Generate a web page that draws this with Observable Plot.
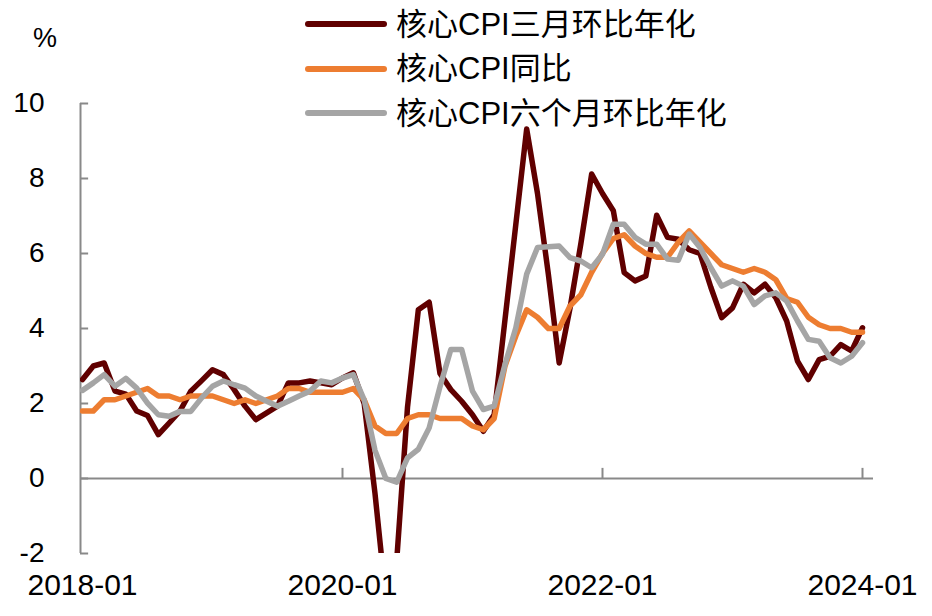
<!DOCTYPE html>
<html>
<head>
<meta charset="utf-8">
<script src="https://cdn.jsdelivr.net/npm/d3@7"></script>
<script src="https://cdn.jsdelivr.net/npm/@observablehq/plot@0.6"></script>
<style>
  html, body { margin: 0; padding: 0; background: #fff; }
  #wrap { position: relative; width: 932px; height: 616px; font-family: "Liberation Sans", Arial, "Noto Sans CJK SC", sans-serif; color: #000; }
  #pct { position: absolute; left: 33px; top: 23px; font-size: 27px; }
  #legend { position: absolute; left: 305px; top: 2px; }
  .row { display: flex; align-items: center; height: 44.5px; }
  .sw { width: 82px; height: 6px; border-radius: 3px; margin-right: 9px; }
  .lab { font-size: 31px; line-height: 31px; white-space: nowrap; }
</style>
</head>
<body>
<div id="wrap">
  <div id="chart"></div>
  <div id="pct">%</div>
  <div id="legend"></div>
</div>
<script>
// month labels 2018-01 .. 2024-01
const months = [];
for (let y = 2018; y <= 2024; y++) {
  for (let m = 1; m <= 12; m++) {
    if (y === 2024 && m > 1) break;
    months.push(`${y}-${String(m).padStart(2, "0")}`);
  }
}
const xTickLabels = ["2018-01", "2020-01", "2022-01", "2024-01"];
const yTicks = [-2, 0, 2, 4, 6, 8, 10];

const seriesNames = ["核心CPI三月环比年化", "核心CPI同比", "核心CPI六个月环比年化"];
const seriesColors = ["#600000", "#ED7D31", "#A5A5A5"];

// 核心CPI三月环比年化
const core3m = [
  2.64, 3.0, 3.08, 2.33, 2.25, 1.8, 1.68, 1.17, 1.48, 1.8, 2.33, 2.61,
  2.9, 2.77, 2.37, 1.93, 1.57, 1.75, 1.93, 2.55, 2.55, 2.6, 2.55, 2.5,
  2.68, 2.82, 2.0, -0.4, -3.2, -2.2, 1.9, 4.5, 4.7, 2.8, 2.37, 2.06,
  1.7, 1.26, 1.7, 4.24, 6.78, 9.32, 7.6, 5.45, 3.08, 4.54, 6.26, 8.12,
  7.6, 7.14, 5.49, 5.27, 5.4, 7.02, 6.43, 6.38, 6.1, 6.0, 5.1, 4.29,
  4.55, 5.18, 4.95, 5.18, 4.82, 4.2, 3.13, 2.64, 3.17, 3.26, 3.57, 3.4,
  4.02
];
// 核心CPI同比
const coreYoY = [
  1.8, 1.8, 2.1, 2.1, 2.2, 2.3, 2.4, 2.2, 2.2, 2.1, 2.2, 2.2,
  2.2, 2.1, 2.0, 2.1, 2.0, 2.1, 2.2, 2.4, 2.4, 2.3, 2.3, 2.3,
  2.3, 2.4, 2.1, 1.4, 1.2, 1.2, 1.6, 1.7, 1.7, 1.6, 1.6, 1.6,
  1.4, 1.3, 1.6, 3.0, 3.8, 4.5, 4.3, 4.0, 4.0, 4.6, 4.9, 5.5,
  6.0, 6.4, 6.5, 6.2, 6.0, 5.9, 5.9, 6.3, 6.6, 6.3, 6.0, 5.7,
  5.6, 5.5, 5.6, 5.5, 5.3, 4.8, 4.7, 4.3, 4.1, 4.0, 4.0, 3.9,
  3.9
];
// 核心CPI六个月环比年化
const core6m = [
  2.35, 2.55, 2.77, 2.46, 2.67, 2.41, 2.01, 1.7, 1.66, 1.79, 1.79, 2.15,
  2.46, 2.6, 2.5, 2.41, 2.2, 2.06, 1.93, 2.06, 2.2, 2.33, 2.6, 2.55,
  2.68, 2.77, 2.1, 0.75, 0.0, -0.1, 0.55, 0.78, 1.35, 2.45, 3.44, 3.44,
  2.33, 1.84, 1.93, 3.04, 4.02, 5.45, 6.16, 6.18, 6.2, 5.89, 5.8, 5.62,
  5.98, 6.78, 6.78, 6.43, 6.25, 6.25, 5.85, 5.82, 6.52, 6.16, 5.62, 5.13,
  5.27, 5.13, 4.64, 4.87, 4.95, 4.73, 4.2, 3.71, 3.66, 3.22, 3.08, 3.26,
  3.62
];

const seriesValues = [core3m, coreYoY, core6m];
const tables = seriesValues.map(vals => vals.map((v, i) => ({i, month: months[i], value: v})));

const xTickIdx = xTickLabels.map(l => months.indexOf(l));
const xDomain = [-0.185, 73.015];
const axisColor = "#898989";
const font = '"Liberation Sans", Arial, "Noto Sans CJK SC", sans-serif';

const chart = Plot.plot({
  width: 932,
  height: 616,
  marginLeft: 80,
  marginRight: 59,
  marginTop: 103,
  marginBottom: 63,
  x: {type: "linear", domain: xDomain},
  y: {domain: [-2, 10]},
  style: {fontFamily: font, fontSize: "28px", color: "#000", background: "#fff", overflow: "visible"},
  marks: [
    Plot.axisY(yTicks, {tickSize: 0, tickPadding: 36, fontSize: 28, tickFormat: d => String(d), label: null}),
    Plot.axisX(xTickIdx, {tickSize: 0, tickPadding: 20, fontSize: 30, tickFormat: i => months[i], label: null}),
    Plot.ruleX([xDomain[0]], {stroke: axisColor, strokeWidth: 2}),
    Plot.ruleY(yTicks, {y: d => d, x1: xDomain[0], x2: xDomain[0] + 0.75, stroke: axisColor, strokeWidth: 2}),
    Plot.ruleY([0], {stroke: axisColor, strokeWidth: 2}),
    Plot.ruleX(xTickIdx.slice(1), {x: d => d, y1: 0, y2: 0.27, stroke: axisColor, strokeWidth: 2}),
    ...tables.map((t, k) => Plot.line(t, {x: "i", y: "value", stroke: seriesColors[k], strokeWidth: 5.5, clip: true}))
  ]
});
document.getElementById("chart").appendChild(chart);

const legend = document.getElementById("legend");
seriesNames.forEach((name, k) => {
  const row = document.createElement("div");
  row.className = "row";
  const sw = document.createElement("div");
  sw.className = "sw";
  sw.style.background = seriesColors[k];
  const lab = document.createElement("div");
  lab.className = "lab";
  lab.textContent = name;
  row.appendChild(sw);
  row.appendChild(lab);
  legend.appendChild(row);
});
</script>
</body>
</html>
